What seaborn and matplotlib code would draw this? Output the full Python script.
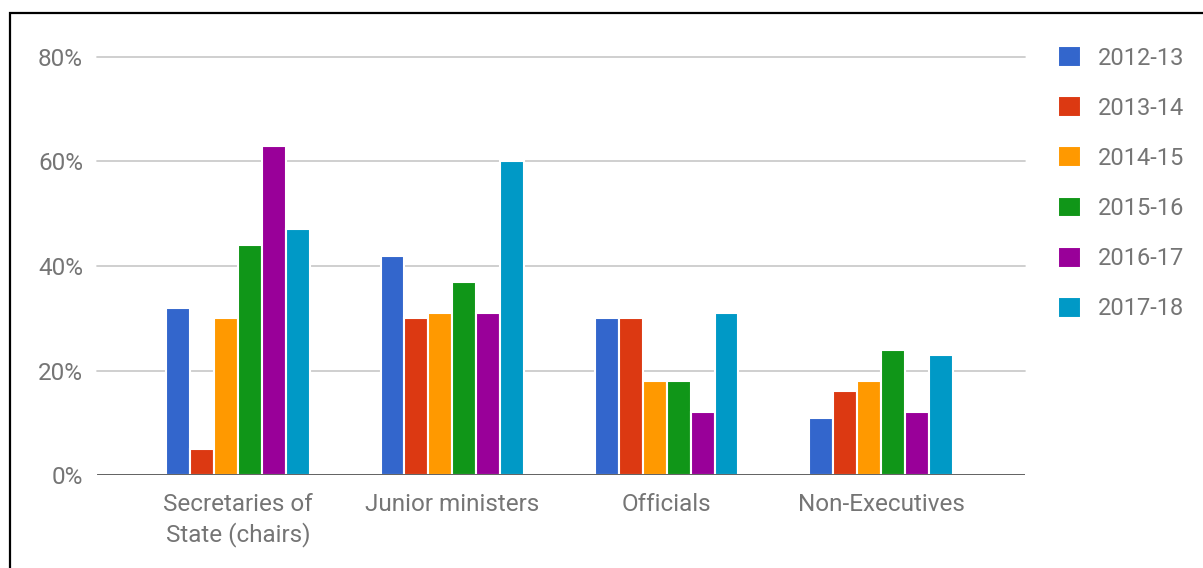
import numpy as np
import pandas as pd
import matplotlib
matplotlib.use('Agg')
import matplotlib.pyplot as plt
from matplotlib.patches import Rectangle
import seaborn as sns

# data
aCategory = ['Secretaries of\nState (chairs)', 'Junior ministers', 'Officials', 'Non-Executives']
aYear = ['2012-13', '2013-14', '2014-15', '2015-16', '2016-17', '2017-18']
aValue_2012 = [32, 42, 30, 11]
aValue_2013 = [5, 30, 30, 16]
aValue_2014 = [30, 31, 18, 18]
aValue_2015 = [44, 37, 18, 24]
aValue_2016 = [63, 31, 12, 12]
aValue_2017 = [47, 60, 31, 23]
aTick = [0, 20, 40, 60, 80]
aTick_label = ['0%', '20%', '40%', '60%', '80%']

aColor = ['#3366cc', '#dc3912', '#ff9900', '#109618', '#990099', '#0099c6']
sGray = '#757575'

aSeries = [aValue_2012, aValue_2013, aValue_2014, aValue_2015, aValue_2016, aValue_2017]
aRow = []
for sYear, aValue in zip(aYear, aSeries):
    for sCat, dValue in zip(aCategory, aValue):
        aRow.append({'category': sCat, 'year': sYear, 'value': dValue})
df = pd.DataFrame(aRow)

sns.set_style('white')
plt.rcParams['font.family'] = ['Roboto', 'DejaVu Sans']

fig = plt.figure(figsize=(12.03, 5.68), dpi=100)
ax = fig.add_axes([97 / 1203, 1 - 475 / 568, (1025 - 97) / 1203, (475 - 57) / 568])

sns.barplot(data=df, x='category', y='value', hue='year', order=aCategory,
            hue_order=aYear, palette=aColor, width=0.67, saturation=1,
            edgecolor='white', linewidth=1.5, ax=ax, zorder=3)

ax.set_xlim(-0.658, 3.672)
ax.set_ylim(0, 80)
ax.set_yticks(aTick)
ax.set_yticklabels(aTick_label)
ax.set_xlabel('')
ax.set_ylabel('')
for s in ['top', 'right', 'left', 'bottom']:
    ax.spines[s].set_visible(False)
for dTick in aTick[1:]:
    ax.axhline(dTick, color='#cccccc', lw=1.3, zorder=1, clip_on=False)
ax.axhline(0, color='#333333', lw=1.8, zorder=4)
ax.tick_params(axis='both', length=0, labelsize=17.5, labelcolor=sGray)
ax.tick_params(axis='y', pad=10)
ax.tick_params(axis='x', pad=13)
for t in ax.get_xticklabels():
    t.set_linespacing(1.3)

ax.legend(loc='upper left', bbox_to_anchor=(1058 / 1203, 1 - 46 / 568),
          bbox_transform=fig.transFigure, frameon=False, fontsize=17,
          labelcolor=sGray, handlelength=0.98, handleheight=0.98,
          handletextpad=0.72, labelspacing=1.13, borderpad=0, borderaxespad=0)

# outer frame of the screenshot
fig.patches.append(Rectangle((10 / 1203, -0.1), 1.2, 1.1 - 13 / 568,
                             transform=fig.transFigure, fill=False,
                             edgecolor='black', lw=1.6))

fig.savefig('out.png', dpi=100)
